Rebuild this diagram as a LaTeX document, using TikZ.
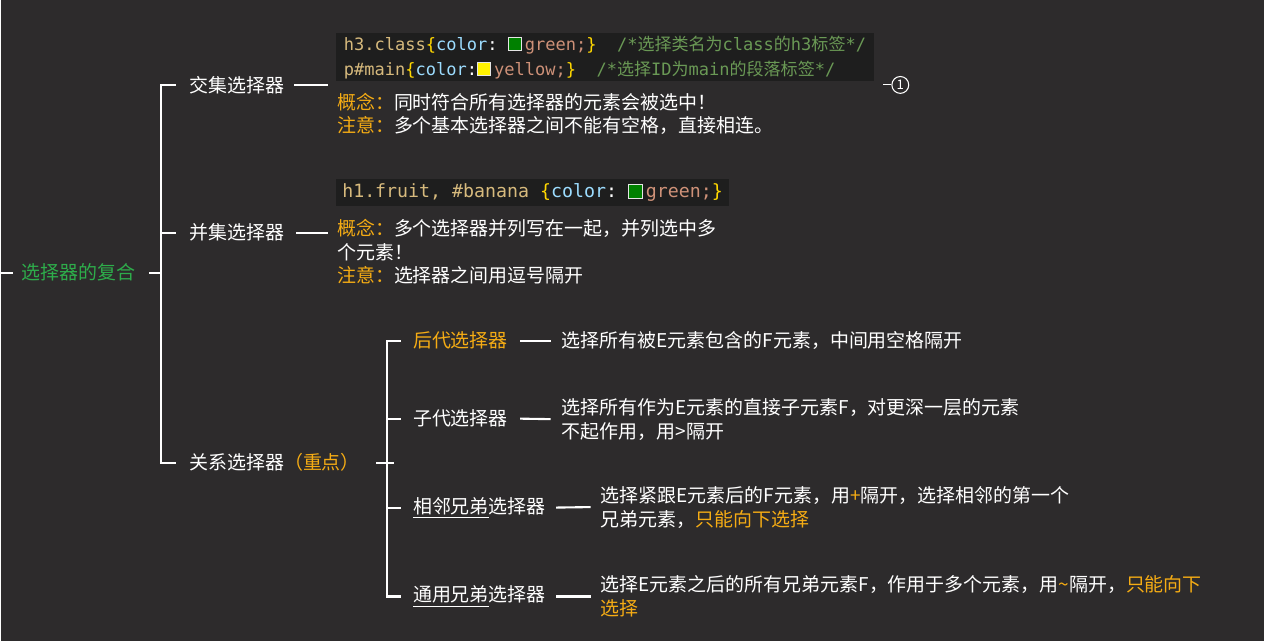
\documentclass[tikz,border=0pt]{standalone}
\usepackage{fontspec}
\setmainfont{Noto Sans CJK SC}
\setmonofont{DejaVu Sans Mono}
\newfontfamily\zhfont{Noto Sans CJK SC}
\usetikzlibrary{positioning, calc}
\definecolor{bgdark}{RGB}{45,43,44}
\definecolor{codebg}{RGB}{30,30,30}
\definecolor{rootgreen}{RGB}{46,173,75}
\definecolor{hlorange}{RGB}{245,172,20}
\definecolor{selgold}{RGB}{215,186,125}
\definecolor{bracegold}{RGB}{255,215,0}
\definecolor{propblue}{RGB}{156,220,254}
\definecolor{valsalmon}{RGB}{206,145,120}
\definecolor{cmtgreen}{RGB}{106,153,85}
\newcommand{\swatch}[1]{{\setlength{\fboxsep}{0pt}\setlength{\fboxrule}{0.7pt}\fcolorbox{white!80!gray}{#1}{\rule{0pt}{0.7em}\hspace{0.7em}}}\hspace{1.5pt}}
\newcommand{\hl}[1]{\textcolor{hlorange}{#1}}
\newcommand{\zh}[1]{{\zhfont #1}}
\newcommand{\cm}[1]{\textcolor{cmtgreen}{#1}}
\tikzset{
  % Mind map topics
  topic/.style={text=white, inner sep=0pt, anchor=west, font=\fontsize{10.8}{13.6}\selectfont},
  roottopic/.style={topic, text=rootgreen},
  % Notes beside a topic
  note/.style={topic, align=left},
  % Code snippets
  codebox/.style={fill=codebg, anchor=north west, inner xsep=3.5pt, inner ysep=2.5pt, align=left, text=white, font=\fontsize{10.4}{14.2}\ttfamily},
  codesmall/.style={codebox, inner ysep=1.4pt, font=\fontsize{9.7}{14.2}\ttfamily},
  % Connectors
  branch/.style={draw=white, line width=1.2pt},
  marker/.style={circle, draw=white, line width=0.6pt, inner sep=0pt, minimum size=9.6pt, text=white, font=\fontsize{7.5}{7.5}\selectfont},
}

\begin{document}
\begin{tikzpicture}[x=0.02cm, y=-0.02cm]

  \fill[bgdark] (0,0) rectangle (1264,642);

  % root and first level
  \node[roottopic] (root) at (20,273) {选择器的复合};
  \coordinate (rootin) at (0,273);
  \node[topic] (jj) at (188,85) {交集选择器};
  \node[topic] (bj) at (188,233) {并集选择器};
  \node[topic] (gx) at (188,463) {关系选择器\hl{（重点）}};

  \draw[branch] (rootin) -- ($(root.west)+(-8,0)$);
  \draw[branch] ($(root.east)+(14,0)$) -- ++(13,0);
  \draw[branch] ($(jj.west)+(-13,0)$) -- ++(-15,0) |- ($(gx.west)+(-13,0)$);
  \draw[branch] ($(bj.west)+(-13,0)$) -- ++(-15,0);

  % intersection selector
  \node[codesmall, minimum width=538*0.02cm, minimum height=47*0.02cm] (jjcode) at (335,33)
    {\textcolor{selgold}{h3.class}\textcolor{bracegold}{\{}\textcolor{propblue}{color}: \swatch{green!50!black}\textcolor{valsalmon}{green;}\textcolor{bracegold}{\}}\ \ \cm{/*\zh{选择类名为}class\zh{的}h3\zh{标签}*/}\\
     \textcolor{selgold}{p\#main}\textcolor{bracegold}{\{}\textcolor{propblue}{color}:\swatch{yellow}\textcolor{valsalmon}{yellow;}\textcolor{bracegold}{\}}\ \ \cm{/*\zh{选择}ID\zh{为}main\zh{的段落标签}*/}};
  \node[note] (jjnote) at (336,114) {\hl{概念：}同时符合所有选择器的元素会被选中！\\\hl{注意：}多个基本选择器之间不能有空格，直接相连。};
  \node[marker] (jjmark) at (900,85) {1};
  \draw[branch] ($(jj.east)+(10,0)$) -- ++(34,0);
  \draw[draw=white, line width=0.6pt] ($(jjmark.west)+(-8,0)$) -- (jjmark.west);

  % union selector
  \node[codebox, minimum width=387*0.02cm, minimum height=27*0.02cm] (bjcode) at (335,179)
    {\textcolor{selgold}{h1.fruit, \#banana} \textcolor{bracegold}{\{}\textcolor{propblue}{color}: \swatch{green!50!black}\textcolor{valsalmon}{green;}\textcolor{bracegold}{\}}};
  \node[note] (bjnote) at (336,252) {\hl{概念：}多个选择器并列写在一起，并列选中多\\个元素！\\\hl{注意：}选择器之间用逗号隔开};
  \draw[branch] ($(bj.east)+(12,0)$) -- ++(32,0);

  % relation selectors
  \node[topic, text=hlorange] (hd) at (412,341) {后代选择器};
  \node[topic] (zd) at (412,419) {子代选择器};
  \node[topic] (xl) at (412,508) {\underline{相邻兄弟}选择器};
  \node[topic] (ty) at (412,597) {\underline{通用兄弟}选择器};

  \draw[branch] ($(gx.east)+(16,0)$) -- ++(18,0);
  \draw[branch] ($(hd.west)+(-12,0)$) -- ++(-14,0) |- ($(ty.west)+(-12,0)$);
  \draw[branch] ($(zd.west)+(-12,0)$) -- ++(-14,0);
  \draw[branch] ($(xl.west)+(-12,0)$) -- ++(-14,0);

  \node[note] (hdnote) at (561,341) {选择所有被E元素包含的F元素，中间用空格隔开};
  \node[note] (zdnote) at (561,419.5) {选择所有作为E元素的直接子元素F，对更深一层的元素\\不起作用，用>隔开};
  \node[note] (xlnote) at (600,507.5) {选择紧跟E元素后的F元素，用\hl{+}隔开，选择相邻的第一个\\兄弟元素，\hl{只能向下选择}};
  \node[note] (tynote) at (600,597) {选择E元素之后的所有兄弟元素F，作用于多个元素，用\hl{\textasciitilde}隔开，\hl{只能向下}\\\hl{选择}};

  \draw[branch] ($(hd.east)+(12,0)$) -- ($(hdnote.west)+(-11,0)$);
  \draw[branch] ($(zd.east)+(12,0)$) -- ($(zdnote.west)+(-11,0)$);
  \draw[branch] ($(xl.east)+(10,0)$) -- ($(xlnote.west)+(-10,0)$);
  \draw[branch] ($(ty.east)+(10,0)$) -- ($(tynote.west)+(-10,0)$);

\end{tikzpicture}
\end{document}
